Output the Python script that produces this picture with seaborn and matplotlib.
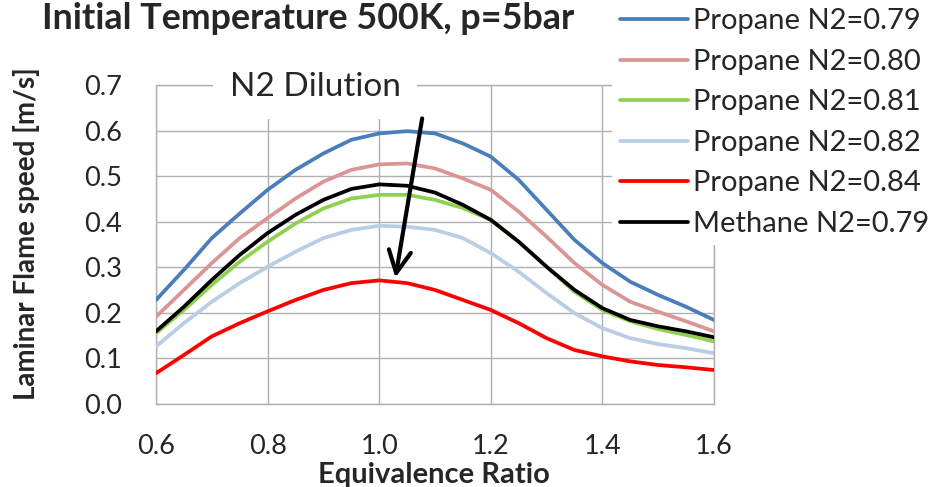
import numpy as np
import pandas as pd
import matplotlib
matplotlib.use("Agg")
import matplotlib.pyplot as plt
import seaborn as sns

# equivalence ratio grid and flame speeds [m/s]
phi = [0.60, 0.65, 0.70, 0.75, 0.80, 0.85, 0.90, 0.95, 1.00, 1.05, 1.10,
       1.15, 1.20, 1.25, 1.30, 1.35, 1.40, 1.45, 1.50, 1.55, 1.60]
propane_079 = [0.228, 0.294, 0.364, 0.418, 0.470, 0.514, 0.550, 0.580, 0.594, 0.599, 0.594,
               0.572, 0.543, 0.492, 0.426, 0.360, 0.309, 0.268, 0.239, 0.213, 0.184]
propane_080 = [0.191, 0.250, 0.309, 0.364, 0.408, 0.451, 0.488, 0.514, 0.526, 0.528, 0.517,
               0.495, 0.470, 0.422, 0.367, 0.309, 0.261, 0.224, 0.202, 0.181, 0.159]
propane_081 = [0.155, 0.206, 0.261, 0.312, 0.356, 0.396, 0.429, 0.451, 0.459, 0.459, 0.448,
               0.430, 0.404, 0.356, 0.301, 0.246, 0.206, 0.181, 0.164, 0.151, 0.137]
propane_082 = [0.126, 0.177, 0.224, 0.265, 0.301, 0.334, 0.364, 0.382, 0.391, 0.389, 0.382,
               0.364, 0.331, 0.290, 0.243, 0.199, 0.166, 0.144, 0.131, 0.122, 0.111]
propane_084 = [0.067, 0.107, 0.148, 0.177, 0.203, 0.228, 0.250, 0.265, 0.271, 0.265, 0.250,
               0.228, 0.206, 0.177, 0.144, 0.118, 0.104, 0.093, 0.085, 0.080, 0.074]
methane_079 = [0.159, 0.213, 0.272, 0.327, 0.375, 0.415, 0.448, 0.472, 0.482, 0.479, 0.464,
               0.437, 0.404, 0.356, 0.301, 0.250, 0.210, 0.184, 0.170, 0.159, 0.146]

labels = ['Propane N2=0.79', 'Propane N2=0.80', 'Propane N2=0.81',
          'Propane N2=0.82', 'Propane N2=0.84', 'Methane N2=0.79']
colors = ['#4a7ebb', '#d99694', '#8fd14f', '#b9cde5', '#ff0000', '#000000']

series = [propane_079, propane_080, propane_081, propane_082, propane_084, methane_079]
df = pd.concat([pd.DataFrame({'phi': phi, 'speed': s, 'case': lab})
                for s, lab in zip(series, labels)], ignore_index=True)

sns.set_theme(style="white")
plt.rcParams['font.family'] = ['Lato', 'DejaVu Sans']

fig = plt.figure(figsize=(9.34, 4.87), dpi=100)
ax = fig.add_axes([156 / 934, 1 - 403.7 / 487, 558 / 934, 318.5 / 487])

sns.lineplot(data=df, x='phi', y='speed', hue='case', hue_order=labels,
             palette=colors, linewidth=2.7, ax=ax, legend=False, sort=False)
# black methane curve drawn over the green one
for line in ax.lines:
    line.set_zorder(3)
ax.lines[5].set_zorder(4)

ticks_x = [0.6, 0.8, 1.0, 1.2, 1.4, 1.6]
ticks_y = [0.0, 0.1, 0.2, 0.3, 0.4, 0.5, 0.6, 0.7]
ax.set_xlim(0.6, 1.6)
ax.set_ylim(0, 0.7)
ax.set_xticks(ticks_x)
ax.set_yticks(ticks_y)
ax.set_xticklabels(['%.1f' % v for v in ticks_x])
ax.set_yticklabels(['%.1f' % v for v in ticks_y])
ax.tick_params(axis='y', labelsize=19.5, length=0, pad=24.5)
ax.tick_params(axis='x', labelsize=19.5, length=0, pad=21.5)
ax.grid(True, color='#b0b0b0', linewidth=1)
for sp in ax.spines.values():
    sp.set_color('#b0b0b0')
    sp.set_linewidth(1)
ax.set_xlabel('')
ax.set_ylabel('')

fig.text(434 / 934, 1 - 483 / 487, 'Equivalence Ratio', fontsize=21,
         fontweight='bold', ha='center', va='baseline')
fig.text(27 / 934, 1 - 234 / 487, 'Laminar Flame speed [m/s]', fontsize=20,
         fontweight='bold', ha='center', va='center', rotation=90)
fig.text(42 / 934, 1 - 29 / 487, 'Initial Temperature 500K, p=5bar',
         fontsize=25.8, fontweight='bold', ha='left', va='baseline')

ax.text(0.885, 0.695, 'N2 Dilution', fontsize=24, ha='center', va='center',
        bbox=dict(facecolor='white', edgecolor='none', boxstyle='square,pad=0.5'),
        zorder=10, clip_on=False)
ax.annotate('', xy=(1.029, 0.277), xytext=(1.077, 0.627),
            arrowprops=dict(arrowstyle='->', color='black', lw=3,
                            mutation_scale=40, shrinkA=0, shrinkB=0), zorder=10)

handles = [plt.Line2D([], [], color=c, lw=2.7) for c in colors]
leg = fig.legend(handles, labels, loc='upper left',
                 bbox_to_anchor=(612 / 934, 1.0), fontsize=21,
                 frameon=True, facecolor='white', edgecolor='none',
                 framealpha=1, fancybox=False, handlelength=2.33, handletextpad=0.17,
                 labelspacing=0.5, borderpad=0.28, borderaxespad=0)

fig.savefig('out.png', dpi=100)
